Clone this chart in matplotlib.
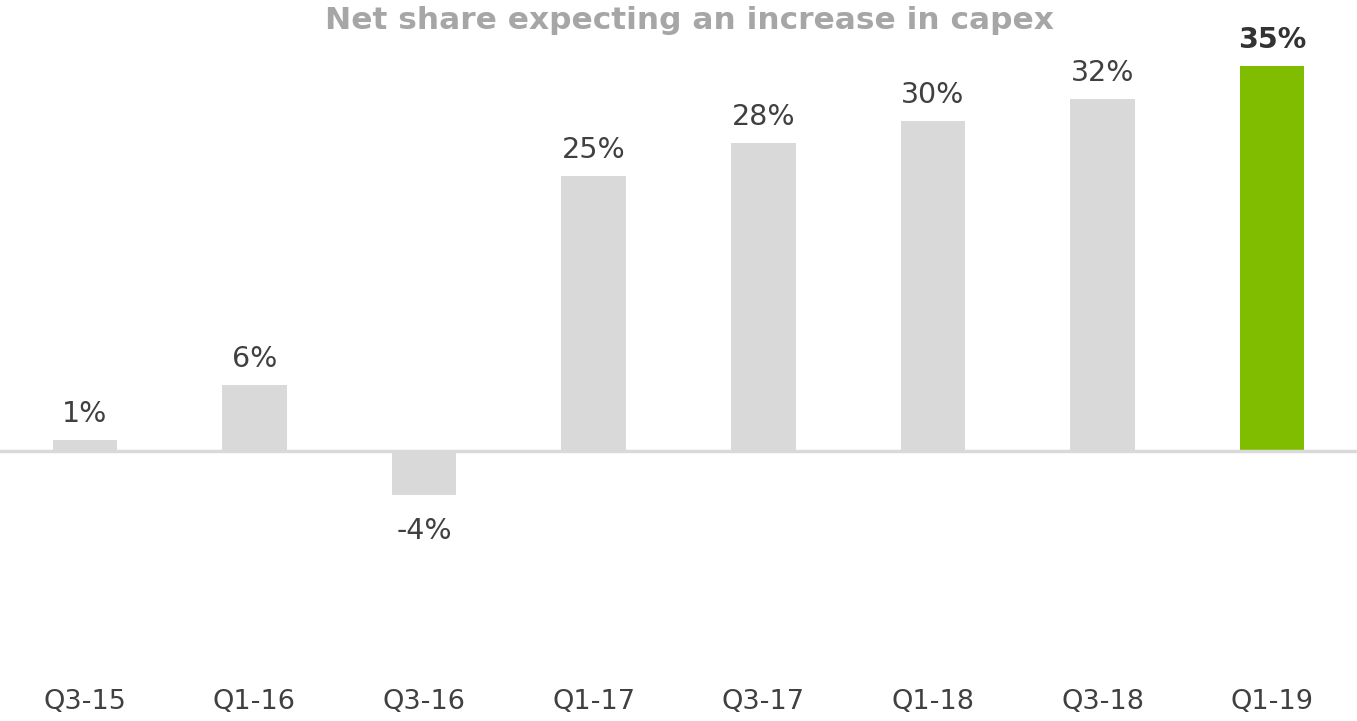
import matplotlib.pyplot as plt

periods = ["Q3-15", "Q1-16", "Q3-16", "Q1-17", "Q3-17", "Q1-18", "Q3-18", "Q1-19"]
net_share = [1, 6, -4, 25, 28, 30, 32, 35]

GREY = "#d9d9d9"
GREEN = "#80bc00"
TEXT = "#404040"

fig = plt.figure(figsize=(13.57, 7.21), dpi=100)
ax = fig.add_axes([0.0, 0.0693, 1.0, 0.9154])

x = list(range(len(periods)))
colors = [GREY] * (len(periods) - 1) + [GREEN]
ax.bar(x, net_share, width=0.38, color=colors, zorder=2)
ax.axhline(0, color=GREY, linewidth=2.5, zorder=3)

for i, v in enumerate(net_share):
    last = i == len(net_share) - 1
    off = 19 if v >= 0 else -26
    ax.annotate(f"{v}%", (i, v), xytext=(0, off), textcoords="offset points",
                ha="center", va="center", fontsize=20.5,
                color="#333333" if last else TEXT,
                fontweight="bold" if last else "normal")

ax.set_xlim(-0.5, len(periods) - 0.5)
ax.set_ylim(-20, 40)
ax.set_xticks(x)
ax.set_xticklabels(periods, fontsize=19.5, color=TEXT)
ax.tick_params(axis="x", length=0, pad=13)
ax.set_yticks([])
for s in ax.spines.values():
    s.set_visible(False)

fig.text(0.508, 0.972, "Net share expecting an increase in capex", ha="center",
         va="center", fontsize=22.5, fontweight="bold", color="#a6a6a6")

fig.savefig("out.png", dpi=100)
